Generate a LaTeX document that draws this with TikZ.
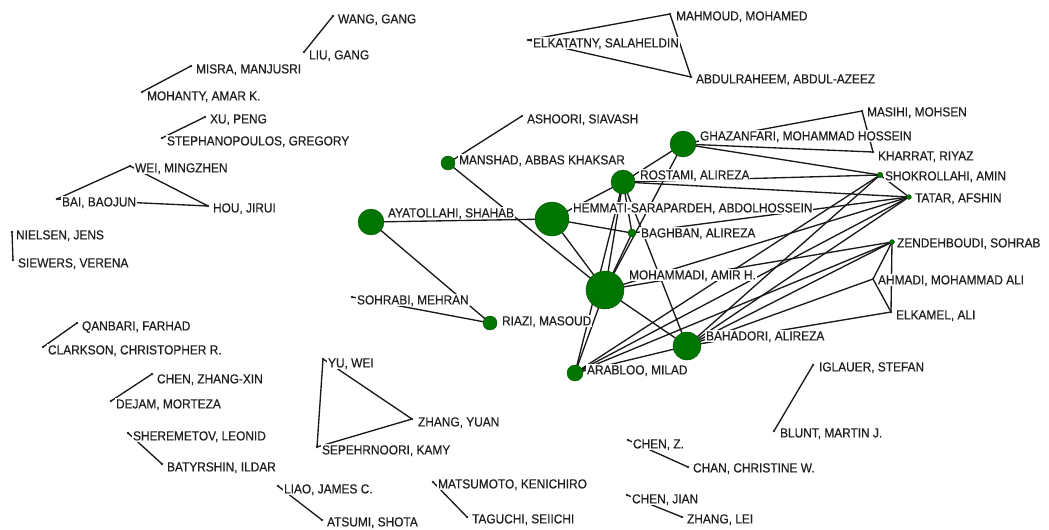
\documentclass[tikz,border=0pt]{standalone}
\usepackage{fontspec}
\setmainfont{Liberation Sans}[FakeStretch=0.91,FakeBold=0.4]
\definecolor{ngreen}{RGB}{0,118,0}
\begin{document}
\begin{tikzpicture}[x=0.75pt,y=-0.75pt,
  tie/.style={line width=1pt, black!90},
  lbl/.style={anchor=west, fill=white, inner sep=0.6pt, text height=7.4pt, text depth=0.8pt, font=\fontsize{9.8}{11}\selectfont, text=black!88},
  sdot/.style={fill=black!85},
  gdot/.style={fill=ngreen, draw=ngreen!70!black, line width=0.3pt}]
\useasboundingbox (0,0) rectangle (1049,529);
% ---------- positions ----------
\coordinate (WANG) at (333,16);
\coordinate (LIU) at (304,52);
\coordinate (MISRA) at (191,66);
\coordinate (MOHANTY) at (142,92);
\coordinate (XU) at (205,117);
\coordinate (STEPH) at (162,138);
\coordinate (WEI) at (130,166);
\coordinate (BAI) at (57,199);
\coordinate (HOU) at (208,206);
\coordinate (NIELSEN) at (12,232);
\coordinate (SIEWERS) at (13,260);
\coordinate (QANBARI) at (77,323);
\coordinate (CLARKSON) at (43,347);
\coordinate (CHENZX) at (152,374);
\coordinate (DEJAM) at (111,401);
\coordinate (SHEREM) at (128,433);
\coordinate (BATYR) at (162,464);
\coordinate (LIAO) at (278,486);
\coordinate (ATSUMI) at (322,520);
\coordinate (YUWEI) at (323,359);
\coordinate (SEPEH) at (317,447);
\coordinate (ZHANGY) at (412,419);
\coordinate (MATSU) at (433,482);
\coordinate (TAGU) at (467,517);
\coordinate (CHENZ) at (628,440);
\coordinate (CHAN) at (688,467);
\coordinate (CHENJ) at (627,495);
\coordinate (ZHANGL) at (682,517);
\coordinate (IGL) at (813,365);
\coordinate (BLUNT) at (774,431);
\coordinate (ELKAT) at (528,40);
\coordinate (MAHM) at (670,14);
\coordinate (ABDUL) at (691,77);
\coordinate (ASHO) at (522,116);
\coordinate (MANSH) at (448,163);
\coordinate (AYAT) at (371,222);
\coordinate (SOHR) at (352,297);
\coordinate (RIAZI) at (490,323);
\coordinate (HEMM) at (552,219);
\coordinate (ROST) at (623,182);
\coordinate (GHAZ) at (683,144);
\coordinate (BAGH) at (632,233);
\coordinate (MOHD) at (605,290);
\coordinate (BAHA) at (687,346);
\coordinate (ARAB) at (575,373);
\coordinate (MASI) at (862,111);
\coordinate (KHAR) at (873,152);
\coordinate (SHOK) at (880,175);
\coordinate (TATAR) at (909,197);
\coordinate (ZEND) at (892,242);
\coordinate (AHMA) at (873,279);
\coordinate (ELKAM) at (891,312);
% ---------- ties ----------
\draw[tie] (WANG) -- (LIU);
\draw[tie] (MISRA) -- (MOHANTY);
\draw[tie] (XU) -- (STEPH);
\draw[tie] (WEI) -- (BAI);
\draw[tie] (WEI) -- (HOU);
\draw[tie] (BAI) -- (HOU);
\draw[tie] (NIELSEN) -- (SIEWERS);
\draw[tie] (QANBARI) -- (CLARKSON);
\draw[tie] (CHENZX) -- (DEJAM);
\draw[tie] (SHEREM) -- (BATYR);
\draw[tie] (LIAO) -- (ATSUMI);
\draw[tie] (YUWEI) -- (ZHANGY);
\draw[tie] (YUWEI) -- (SEPEH);
\draw[tie] (SEPEH) -- (ZHANGY);
\draw[tie] (MATSU) -- (TAGU);
\draw[tie] (CHENZ) -- (CHAN);
\draw[tie] (CHENJ) -- (ZHANGL);
\draw[tie] (IGL) -- (BLUNT);
\draw[tie] (ELKAT) -- (MAHM);
\draw[tie] (ELKAT) -- (ABDUL);
\draw[tie] (MAHM) -- (ABDUL);
\draw[tie] (MANSH) -- (ASHO);
\draw[tie] (MANSH) -- (MOHD);
\draw[tie] (AYAT) -- (HEMM);
\draw[tie] (AYAT) -- (RIAZI);
\draw[tie] (SOHR) -- (RIAZI);
\draw[tie] (HEMM) -- (ROST);
\draw[tie] (HEMM) -- (BAGH);
\draw[tie] (HEMM) -- (MOHD);
\draw[tie] (ROST) -- (GHAZ);
\draw[tie] (ROST) -- (MOHD);
\draw[tie] (ROST) -- (BAGH);
\draw[tie] (ROST) -- (ARAB);
\draw[tie] (ROST) -- (BAHA);
\draw[tie] (ROST) -- (SHOK);
\draw[tie] (ROST) -- (TATAR);
\draw[tie] (GHAZ) -- (MASI);
\draw[tie] (GHAZ) -- (KHAR);
\draw[tie] (GHAZ) -- (SHOK);
\draw[tie] (GHAZ) -- (MOHD);
\draw[tie] (MASI) -- (KHAR);
\draw[tie] (BAGH) -- (MOHD);
\draw[tie] (BAGH) -- (TATAR);
\draw[tie] (MOHD) -- (BAHA);
\draw[tie] (MOHD) -- (ARAB);
\draw[tie] (MOHD) -- (TATAR);
\draw[tie] (MOHD) -- (ZEND);
\draw[tie] (ARAB) -- (BAHA);
\draw[tie] (ARAB) -- (SHOK);
\draw[tie] (ARAB) -- (TATAR);
\draw[tie] (ARAB) -- (ZEND);
\draw[tie] (BAHA) -- (SHOK);
\draw[tie] (BAHA) -- (TATAR);
\draw[tie] (BAHA) -- (ZEND);
\draw[tie] (BAHA) -- (AHMA);
\draw[tie] (BAHA) -- (ELKAM);
\draw[tie] (SHOK) -- (TATAR);
\draw[tie] (ZEND) -- (AHMA);
\draw[tie] (ZEND) -- (ELKAM);
\draw[tie] (AHMA) -- (ELKAM);
% ---------- labels ----------
\node[lbl] (lWANG) at (337,19) {WANG, GANG};
\node[lbl] (lLIU) at (308,55) {LIU, GANG};
\node[lbl] (lMISRA) at (195,69) {MISRA, MANJUSRI};
\node[lbl] (lMOHANTY) at (146,96) {MOHANTY, AMAR K.};
\node[lbl] (lXU) at (209,119) {XU, PENG};
\node[lbl] (lSTEPH) at (166,141) {STEPHANOPOULOS, GREGORY};
\node[lbl] (lWEI) at (134,168) {WEI, MINGZHEN};
\node[lbl] (lBAI) at (61,202) {BAI, BAOJUN};
\node[lbl] (lHOU) at (212,208) {HOU, JIRUI};
\node[lbl] (lNIELSEN) at (15,235) {NIELSEN, JENS};
\node[lbl] (lSIEWERS) at (17,263) {SIEWERS, VERENA};
\node[lbl] (lQANBARI) at (81,326) {QANBARI, FARHAD};
\node[lbl] (lCLARKSON) at (47,350) {CLARKSON, CHRISTOPHER R.};
\node[lbl] (lCHENZX) at (156,379) {CHEN, ZHANG-XIN};
\node[lbl] (lDEJAM) at (115,404) {DEJAM, MORTEZA};
\node[lbl] (lSHEREM) at (132,436) {SHEREMETOV, LEONID};
\node[lbl] (lBATYR) at (166,467) {BATYRSHIN, ILDAR};
\node[lbl] (lLIAO) at (283,489) {LIAO, JAMES C.};
\node[lbl] (lATSUMI) at (326,522) {ATSUMI, SHOTA};
\node[lbl] (lYUWEI) at (327,363) {YU, WEI};
\node[lbl] (lSEPEH) at (321,450) {SEPEHRNOORI, KAMY};
\node[lbl] (lZHANGY) at (417,422) {ZHANG, YUAN};
\node[lbl] (lMATSU) at (437,484) {MATSUMOTO, KENICHIRO};
\node[lbl] (lTAGU) at (471,519) {TAGUCHI, SEIICHI};
\node[lbl] (lCHENZ) at (632,444) {CHEN, Z.};
\node[lbl] (lCHAN) at (692,468) {CHAN, CHRISTINE W.};
\node[lbl] (lCHENJ) at (631,499) {CHEN, JIAN};
\node[lbl] (lZHANGL) at (686,519) {ZHANG, LEI};
\node[lbl] (lIGL) at (818,367) {IGLAUER, STEFAN};
\node[lbl] (lBLUNT) at (779,433) {BLUNT, MARTIN J.};
\node[lbl] (lELKAT) at (532,43) {ELKATATNY, SALAHELDIN};
\node[lbl] (lMAHM) at (675,16) {MAHMOUD, MOHAMED};
\node[lbl] (lABDUL) at (695,79) {ABDULRAHEEM, ABDUL-AZEEZ};
\node[lbl] (lASHO) at (526,119) {ASHOORI, SIAVASH};
\node[lbl] (lMANSH) at (458,160) {MANSHAD, ABBAS KHAKSAR};
\node[lbl] (lAYAT) at (387,213) {AYATOLLAHI, SHAHAB};
\node[lbl] (lSOHR) at (356,300) {SOHRABI, MEHRAN};
\node[lbl] (lRIAZI) at (501,321) {RIAZI, MASOUD};
\node[lbl] (lHEMM) at (572,208) {HEMMATI-SARAPARDEH, ABDOLHOSSEIN};
\node[lbl] (lROST) at (639,175) {ROSTAMI, ALIREZA};
\node[lbl] (lGHAZ) at (699,136) {GHAZANFARI, MOHAMMAD HOSSEIN};
\node[lbl] (lBAGH) at (640,233) {BAGHBAN, ALIREZA};
\node[lbl] (lMOHD) at (628,275) {MOHAMMADI, AMIR H.};
\node[lbl] (lBAHA) at (705,336) {BAHADORI, ALIREZA};
\node[lbl] (lARAB) at (586,370) {ARABLOO, MILAD};
\node[lbl] (lMASI) at (866,112) {MASIHI, MOHSEN};
\node[lbl] (lKHAR) at (877,156) {KHARRAT, RIYAZ};
\node[lbl] (lSHOK) at (884,176) {SHOKROLLAHI, AMIN};
\node[lbl] (lTATAR) at (914,198) {TATAR, AFSHIN};
\node[lbl] (lZEND) at (896,243) {ZENDEHBOUDI, SOHRAB};
\node[lbl] (lAHMA) at (877,280) {AHMADI, MOHAMMAD ALI};
\node[lbl] (lELKAM) at (895,315) {ELKAMEL, ALI};
% ---------- actor marks ----------
\foreach \p in {WANG,LIU,MISRA,MOHANTY,XU,STEPH,WEI,BAI,HOU,NIELSEN,SIEWERS,QANBARI,CLARKSON,CHENZX,DEJAM,SHEREM,BATYR,LIAO,ATSUMI,YUWEI,SEPEH,ZHANGY,MATSU,TAGU,CHENZ,CHAN,CHENJ,ZHANGL,IGL,BLUNT,ELKAT,MAHM,ABDUL,ASHO,SOHR,MASI,KHAR,AHMA,ELKAM}
  \fill[sdot] (\p) circle[radius=1.1pt];
\fill[gdot] (MOHD) circle[radius=14.25pt];
\fill[gdot] (HEMM) circle[radius=12.75pt];
\fill[gdot] (BAHA) circle[radius=10.5pt];
\fill[gdot] (GHAZ) circle[radius=9.75pt];
\fill[gdot] (AYAT) circle[radius=9.75pt];
\fill[gdot] (ROST) circle[radius=9pt];
\fill[gdot] (ARAB) circle[radius=6pt];
\fill[gdot] (MANSH) circle[radius=5.25pt];
\fill[gdot] (RIAZI) circle[radius=5.25pt];
\fill[gdot] (BAGH) circle[radius=3pt];
\fill[gdot] (SHOK) circle[radius=2.1pt];
\fill[gdot] (TATAR) circle[radius=1.8pt];
\fill[gdot] (ZEND) circle[radius=1.8pt];
\end{tikzpicture}
\end{document}
